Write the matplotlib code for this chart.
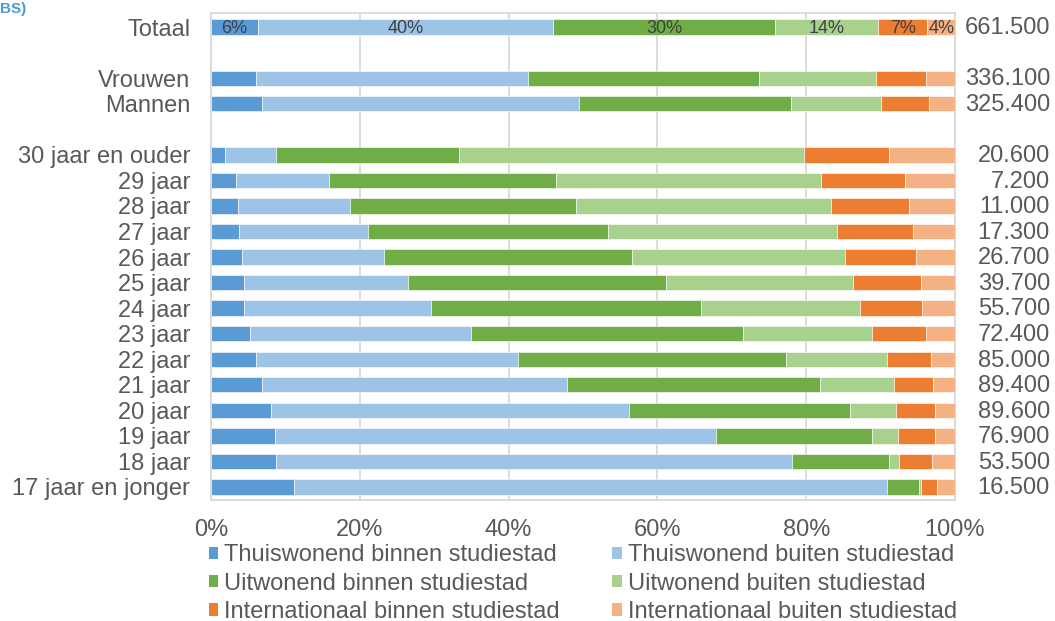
import matplotlib
matplotlib.use("Agg")
import matplotlib.pyplot as plt
from matplotlib.patches import Patch
import numpy as np

plt.rcParams['font.family'] = ['Liberation Sans', 'DejaVu Sans']

categories = ["Totaal", "Vrouwen", "Mannen", "30 jaar en ouder", "29 jaar", "28 jaar",
              "27 jaar", "26 jaar", "25 jaar", "24 jaar", "23 jaar", "22 jaar", "21 jaar",
              "20 jaar", "19 jaar", "18 jaar", "17 jaar en jonger"]
counts = [661500, 336100, 325400, 20600, 7200, 11000, 17300, 26700, 39700, 55700,
          72400, 85000, 89400, 89600, 76900, 53500, 16500]

series_names = ["Thuiswonend binnen studiestad", "Thuiswonend buiten studiestad",
                "Uitwonend binnen studiestad", "Uitwonend buiten studiestad",
                "Internationaal binnen studiestad", "Internationaal buiten studiestad"]

thuis_binnen = [6.3, 6.0, 6.8, 1.9, 3.4, 3.6, 3.8, 4.1, 4.5, 4.5, 5.3, 6.0, 6.8, 8.0, 8.6, 8.8, 11.1]
thuis_buiten = [39.7, 36.6, 42.6, 6.8, 12.4, 15.1, 17.3, 19.1, 22.0, 25.1, 29.6, 35.3, 41.1, 48.2, 59.3, 69.3, 79.8]
uit_binnen = [29.8, 31.1, 28.6, 24.7, 30.6, 30.4, 32.3, 33.4, 34.6, 36.3, 36.6, 36.0, 34.0, 29.7, 21.0, 13.0, 4.2]
uit_buiten = [13.9, 15.7, 12.1, 46.3, 35.6, 34.2, 30.8, 28.6, 25.2, 21.3, 17.3, 13.5, 9.9, 6.2, 3.5, 1.4, 0.3]
int_binnen = [6.6, 6.7, 6.4, 11.4, 11.3, 10.5, 10.2, 9.6, 9.1, 8.4, 7.3, 6.0, 5.2, 5.2, 4.9, 4.4, 2.2]
int_buiten = [3.7, 3.9, 3.5, 8.9, 6.7, 6.2, 5.6, 5.2, 4.6, 4.4, 3.9, 3.2, 3.0, 2.7, 2.7, 3.1, 2.4]

colors = ["#5B9BD5", "#9DC3E6", "#70AD47", "#A9D18E", "#ED7D31", "#F4B183"]
x_ticks = [0, 20, 40, 60, 80, 100]

series = [thuis_binnen, thuis_buiten, uit_binnen, uit_buiten, int_binnen, int_buiten]

# layout: blank slot after Totaal and after Mannen
positions = []
p = 0
for i in range(len(categories)):
    positions.append(p)
    p += 2 if i in (0, 2) else 1
positions = np.array(positions)

fig = plt.figure(figsize=(10.55, 6.21), dpi=100)
ax = fig.add_axes([0.2, 0.1948, 0.7052, 0.7842])

label_color = "#595959"
grid_color = "#D9D9D9"

left = np.zeros(len(categories))
for vals, col, name in zip(series, colors, series_names):
    v = np.array(vals)
    ax.barh(positions, v, left=left, height=0.6, color=col, edgecolor="white",
            linewidth=0.4, label=name, zorder=3)
    # percentage labels on the Totaal row
    ax.text(left[0] + v[0] / 2, positions[0] + 0.05, f"{v[0]:.0f}%", ha="center", va="center",
            fontsize=13, color="#404040", zorder=4)
    left += v

ax.set_xlim(0, 100)
ax.set_ylim(18.51, -0.55)
ax.set_yticks(positions)
ax.set_yticklabels(categories, fontsize=17, color=label_color)
ax.set_xticks(x_ticks)
ax.set_xticklabels([f"{t}%" for t in x_ticks], fontsize=17, color=label_color)
ax.tick_params(axis="both", length=0)
ax.tick_params(axis="y", pad=15)
ax.tick_params(axis="x", pad=13.5)
ax.xaxis.grid(True, color=grid_color, linewidth=1.3, zorder=0)
ax.set_axisbelow(True)
for s in ax.spines.values():
    s.set_color(grid_color)
    s.set_linewidth(1.3)

for pos, c in zip(positions, counts):
    txt = f"{c:,}".replace(",", ".")
    ax.text(1.1277, pos + 0.05, txt, transform=ax.get_yaxis_transform(), ha="right", va="center",
            fontsize=17, color=label_color, clip_on=False)

handles = [Patch(facecolor=c, edgecolor="none") for c in colors]
order = [0, 2, 4, 1, 3, 5]
fig.legend([handles[i] for i in order], [series_names[i] for i in order],
           ncol=2, loc="upper left", bbox_to_anchor=(0.1977, 0.1237), frameon=False,
           fontsize=17, handlelength=0.42, handleheight=0.42, handletextpad=0.25,
           columnspacing=2.21, labelspacing=0.27, borderpad=0, borderaxespad=0,
           labelcolor=label_color)

fig.text(0.0, 1 - 13 / 621, "BS)", fontsize=11, fontweight="bold", color="#4A9AD8",
         ha="left", va="baseline")

fig.savefig("out.png", dpi=100)
